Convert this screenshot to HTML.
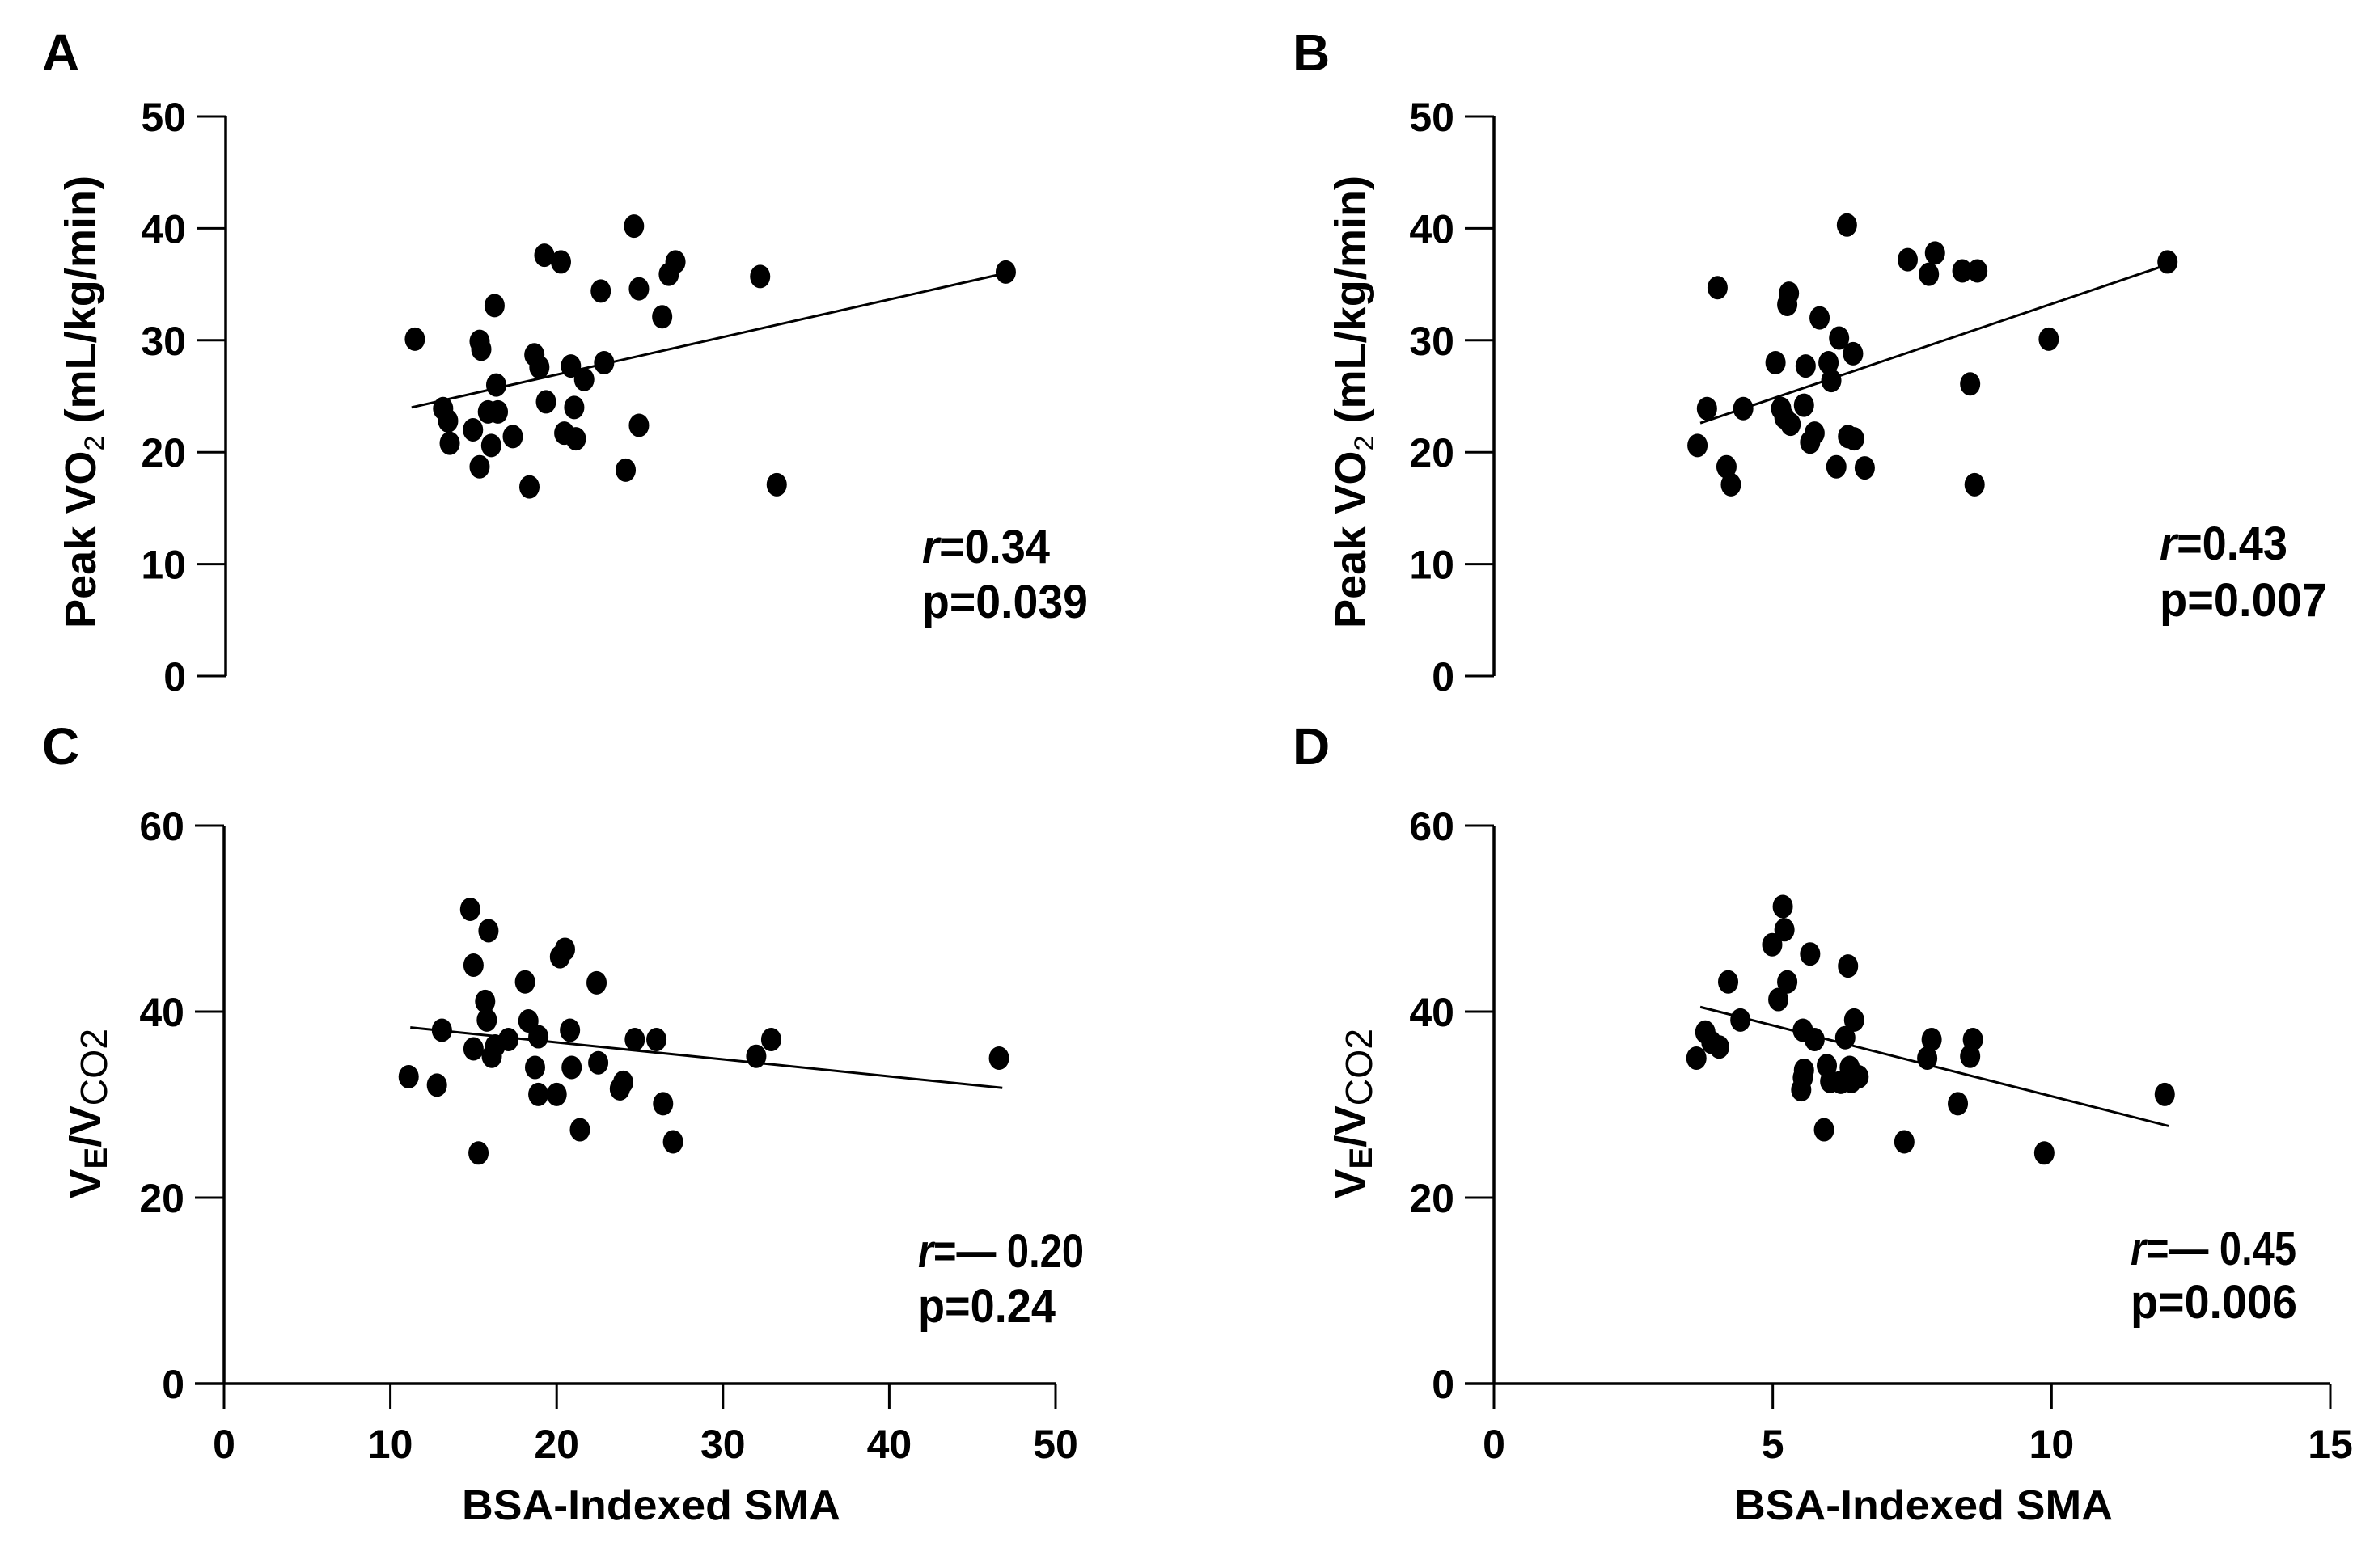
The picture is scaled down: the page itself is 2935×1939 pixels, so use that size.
<!DOCTYPE html>
<html><head><meta charset="utf-8"><style>
html,body{margin:0;padding:0;background:#fff;}
svg{display:block;font-family:"Liberation Sans",Arial,sans-serif;}
</style></head><body>
<svg id="fig" width="2935" height="1939" viewBox="0 0 2935 1939" xmlns="http://www.w3.org/2000/svg">
<rect width="2935" height="1939" fill="#fff"/>
</svg>
<script>
// Panel A: BSA-indexed SMA vs Peak VO2
const aX=[11.4,13.1,13.4,13.5,14.9,15.3,15.4,15.3,15.8,16.0,16.2,16.3,16.4,17.3,18.3,18.6,18.9,19.2,19.3,20.2,20.4,20.8,21.0,21.1,21.6,22.6,22.8,24.1,24.6,24.9,24.9,26.3,26.7,27.1,32.2,33.2,47.0];
const aY=[30.1,23.9,22.8,20.8,22.0,29.9,29.2,18.7,23.6,20.6,33.1,26.0,23.6,21.4,16.9,28.7,27.6,37.6,24.5,37.0,21.7,27.7,24.0,21.2,26.5,34.4,28.0,18.4,40.2,34.6,22.4,32.1,35.9,37.0,35.7,17.1,36.1];
const aFit=[[11.2,24.0],[47.0,36.0]];
// Panel B
const bX=[3.65,3.82,4.01,4.17,4.25,4.47,5.05,5.15,5.21,5.26,5.29,5.32,5.56,5.59,5.67,5.75,5.84,6.0,6.05,6.14,6.19,6.33,6.35,6.46,6.44,6.65,7.42,7.80,7.91,8.40,8.67,8.54,8.62,9.95,12.08];
const bY=[20.6,23.9,34.7,18.7,17.1,23.9,28.0,23.9,23.1,33.2,34.2,22.5,24.2,27.7,20.9,21.7,32.0,28.0,26.4,18.7,30.2,40.3,21.4,21.2,28.8,18.6,37.2,35.9,37.8,36.2,36.2,26.1,17.1,30.1,37.0];
const bFit=[[3.7,22.6],[12.1,36.8]];
// Panel C
const cX=[11.1,12.8,13.1,14.8,15.0,15.0,15.3,15.7,15.8,15.9,16.1,16.3,17.1,18.1,18.3,18.7,18.9,18.9,20.0,20.2,20.5,20.8,20.9,21.4,22.4,22.5,23.8,24.0,24.7,26.0,26.4,27.0,32.0,32.9,46.6];
const cY=[33.0,32.1,38.0,51.0,45.0,36.0,24.8,41.1,39.1,48.7,35.2,36.3,37.0,43.2,39.0,34.0,37.3,31.1,31.1,45.9,46.7,38.0,34.0,27.3,43.1,34.5,31.7,32.4,37.0,37.0,30.1,26.0,35.2,37.0,35.0];
const cFit=[[11.2,38.3],[46.8,31.8]];
// Panel D
const dX=[3.63,3.79,3.90,4.04,4.20,4.42,4.99,5.10,5.18,5.21,5.26,5.51,5.54,5.54,5.56,5.67,5.75,5.92,5.97,6.03,6.22,6.30,6.35,6.38,6.41,6.46,6.54,7.36,7.77,7.85,8.32,8.54,8.59,9.87,12.03];
const dY=[35.0,37.8,36.7,36.2,43.2,39.1,47.2,41.3,51.3,48.8,43.2,31.6,32.9,38.0,33.7,46.2,37.0,27.3,34.2,32.5,32.4,37.2,44.9,34.0,32.5,39.1,33.0,26.0,35.0,37.0,30.1,35.2,37.0,24.8,31.1];
const dFit=[[3.7,40.5],[12.1,27.7]];
const yTicksVO2=[0,10,20,30,40,50];
const yTicksVE=[0,20,40,60];
const xTicksA=[0,10,20,30,40,50];
const xTicksB=[0,5,10,15];

const NS='http://www.w3.org/2000/svg';
const svg=document.getElementById('fig');
function mk(tag,attrs,parent){const e=document.createElementNS(NS,tag);for(const k in attrs)e.setAttribute(k,attrs[k]);(parent||svg).appendChild(e);return e;}

function panel(o){
  const g=mk('g',{});
  
  
  const sx=v=>o.x0+(v-o.xmin)/(o.xmax-o.xmin)*(o.x1-o.x0);
  const sy=v=>o.y0-(v-o.ymin)/(o.ymax-o.ymin)*(o.y0-o.y1);
  const ya=mk('line',{x1:o.x0,y1:sy(o.ymin),x2:o.x0,y2:sy(o.ymax),stroke:'#000','stroke-width':3.5},g);
  
  
  o.yTicks.forEach(t=>{
    const tk=mk('line',{x1:o.x0-36,y1:sy(t),x2:o.x0,y2:sy(t),stroke:'#000','stroke-width':3},g);
    
    
    const tl=mk('text',{x:o.x0-49,y:sy(t)+18,'text-anchor':'end','font-size':50,'font-weight':'bold'},g);
    
    
    tl.textContent=t;
  });
  if(o.xTicks){
    const xa=mk('line',{x1:o.x0-36,y1:o.y0,x2:sx(o.xmax),y2:o.y0,stroke:'#000','stroke-width':3.5},g);
    
    
    o.xTicks.forEach(t=>{
      const tk=mk('line',{x1:sx(t),y1:o.y0,x2:sx(t),y2:o.y0+31,stroke:'#000','stroke-width':3},g);
      
      
      const tl=mk('text',{x:sx(t),y:o.y0+92,'text-anchor':'middle','font-size':50,'font-weight':'bold'},g);
      
      
      tl.textContent=t;
    });
    const xt=mk('text',{x:(sx(o.xmin)+sx(o.xmax))/2+14,y:o.y0+168,'text-anchor':'middle','font-size':52,'font-weight':'bold',textLength:468,lengthAdjust:'spacingAndGlyphs'},g);
    
    
    xt.textContent='BSA-Indexed SMA';
  }
  const fl=mk('line',{x1:sx(o.fit[0][0]),y1:sy(o.fit[0][1]),x2:sx(o.fit[1][0]),y2:sy(o.fit[1][1]),stroke:'#000','stroke-width':3},g);
  
  
  o.xs.forEach((v,i)=>{
    const p=mk('ellipse',{cx:sx(v),cy:sy(o.ys[i]),rx:12.5,ry:14.5,fill:'#000'},g);
    
    
  });
  const L=mk('text',{x:o.lx,y:o.ly,'font-size':64,'font-weight':'bold'},g);
  
  
  L.textContent=o.letter;
  const r=mk('text',{x:o.sx,y:o.sy1,'font-size':58,'font-weight':'bold',textLength:o.rw,lengthAdjust:'spacingAndGlyphs'},g);
  
  
  const ri=mk('tspan',{'font-style':'italic'},r);ri.textContent='r';
  const rr=mk('tspan',{},r);rr.textContent=o.rText;
  const p=mk('text',{x:o.sx,y:o.sy2,'font-size':58,'font-weight':'bold',textLength:o.pw,lengthAdjust:'spacingAndGlyphs'},g);
  
  
  p.textContent=o.pText;
  const yt=mk('text',{x:0,y:0,'text-anchor':'middle','font-size':54,'font-weight':'bold',transform:`translate(${o.ytx},${o.yty}) rotate(-90)`},g);
  
  
  if(o.vo2){
    yt.setAttribute('textLength',560);yt.setAttribute('lengthAdjust','spacingAndGlyphs');
    const a=mk('tspan',{},yt);a.textContent='Peak VO';
    const b=mk('tspan',{'font-size':34,'font-weight':'normal',dy:10},yt);b.textContent='2';
    const c=mk('tspan',{dy:-10},yt);c.textContent=' (mL/kg/min)';
  } else {
    yt.setAttribute('textLength',210);yt.setAttribute('lengthAdjust','spacingAndGlyphs');
    const a=mk('tspan',{},yt);a.textContent='V';
    const b=mk('tspan',{'font-size':40,dy:8},yt);b.textContent='E';
    const c=mk('tspan',{dy:-8},yt);c.textContent='/V';
    const d=mk('tspan',{'font-size':46,'font-weight':'normal',dy:8},yt);d.textContent='CO2';
  }
}
panel({name:'panel-a',letter:'A',lx:52,ly:87,x0:279,x1:1305,xmin:0,xmax:50,y0:836,y1:144,ymin:0,ymax:50,yTicks:yTicksVO2,xs:aX,ys:aY,fit:aFit,sx:1140,sy1:696,sy2:764,rText:'=0.34',pText:'p=0.039',rw:158,pw:205,ytx:118,yty:497,vo2:true});
panel({name:'panel-b',letter:'B',lx:1598,ly:87,x0:1847,x1:2881,xmin:0,xmax:15,y0:836,y1:144,ymin:0,ymax:50,yTicks:yTicksVO2,xs:bX,ys:bY,fit:bFit,sx:2670,sy1:692,sy2:762,rText:'=0.43',pText:'p=0.007',rw:158,pw:207,ytx:1688,yty:497,vo2:true});
panel({name:'panel-c',letter:'C',lx:52,ly:945,x0:277,x1:1305,xmin:0,xmax:50,y0:1711,y1:1021,ymin:0,ymax:60,yTicks:yTicksVE,xTicks:xTicksA,xs:cX,ys:cY,fit:cFit,sx:1135,sy1:1567,sy2:1635,rText:'=\u2014 0.20',pText:'p=0.24',rw:205,pw:170,ytx:124,yty:1377,vo2:false});
panel({name:'panel-d',letter:'D',lx:1598,ly:945,x0:1847,x1:2881,xmin:0,xmax:15,y0:1711,y1:1021,ymin:0,ymax:60,yTicks:yTicksVE,xTicks:xTicksB,xs:dX,ys:dY,fit:dFit,sx:2634,sy1:1564,sy2:1630,rText:'=\u2014 0.45',pText:'p=0.006',rw:205,pw:206,ytx:1688,yty:1377,vo2:false});
</script>
</body></html>
